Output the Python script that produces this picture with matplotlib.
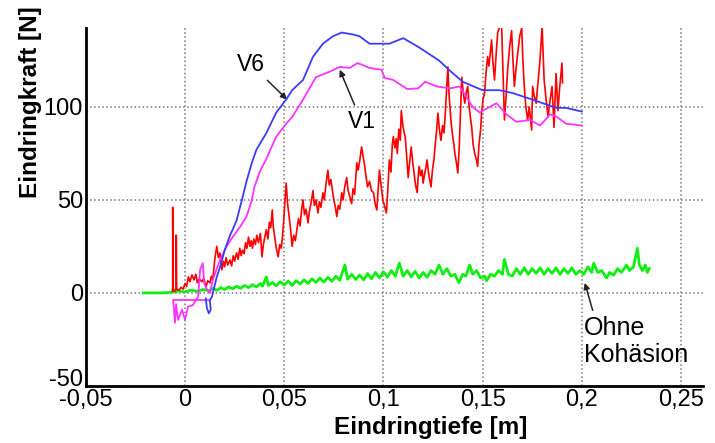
import matplotlib.pyplot as plt
from matplotlib.ticker import FixedLocator, FixedFormatter
from matplotlib.transforms import ScaledTranslation

plt.rcParams['font.family'] = ['Liberation Sans', 'DejaVu Sans']

# Eindringversuche: Eindringtiefe [m] gegen Eindringkraft [N]
v6_x = [0.0105, 0.011, 0.012, 0.013, 0.0125, 0.0136, 0.016, 0.018, 0.02, 0.0227,
        0.024, 0.026, 0.0277, 0.0287, 0.031, 0.0337, 0.036, 0.041, 0.046, 0.051,
        0.054, 0.0595, 0.0645, 0.0695, 0.0745, 0.079, 0.0846, 0.088, 0.093, 0.103,
        0.11, 0.118, 0.128, 0.133, 0.14, 0.15, 0.1585, 0.165, 0.175, 0.187, 0.192, 0.2]
v6_y = [-3, -8, -11, -9, -4, -2, 8.6, 15, 23, 31,
        34, 39, 46, 50, 60, 70, 77, 86, 97, 104,
        109, 114.5, 127, 134, 138, 140, 139, 138, 134, 134,
        137, 132, 125, 120, 113.5, 109, 109, 107.5, 104, 99.5, 99.5, 97.5]

v1_x = [0.0126, -0.006, -0.005, -0.0045, -0.0035, -0.0015, 0.0, 0.0015, 0.004, 0.0066,
        0.0076, 0.009, 0.0096, 0.011, 0.0126, 0.014, 0.0176, 0.021, 0.024, 0.0277,
        0.031, 0.0337, 0.035, 0.038, 0.041, 0.043, 0.046, 0.051, 0.054, 0.0595,
        0.066, 0.073, 0.078, 0.083, 0.087, 0.093, 0.099, 0.1007, 0.105, 0.112,
        0.1175, 0.121, 0.127, 0.1335, 0.1385, 0.145, 0.1485, 0.1535, 0.157, 0.162,
        0.167, 0.174, 0.179, 0.184, 0.187, 0.192, 0.2]
v1_y = [-3.8, -3.8, -16, -6, -14.5, -9, -14.5, -7.5, -6.5, -2,
        12.4, 16, 5.4, 2, 0, 7, 17.7, 25, 30, 35.5,
        41, 50, 57, 66, 72, 77, 84, 91, 94.6, 104,
        116, 119, 121.5, 121, 123.6, 121, 120, 115.6, 114.5, 109.6,
        110, 113.5, 111, 110, 111, 100, 97, 100, 102, 96,
        92, 93, 90, 96, 95, 91, 90]

rot_x = [-0.0062, -0.0062, -0.006, -0.005, -0.0045, -0.0044, -0.0042, -0.003, -0.002, -0.001,
         0.0, 0.0008, 0.0017, 0.0025, 0.0035, 0.0045, 0.0055, 0.0062, 0.0072, 0.0085,
         0.0095, 0.0105, 0.0115, 0.0126, 0.0133, 0.014, 0.015, 0.016, 0.0168, 0.0176,
         0.0186, 0.0193, 0.02, 0.0207, 0.0215, 0.0227, 0.0235, 0.0243, 0.025, 0.026,
         0.0268, 0.0276, 0.0283, 0.029, 0.0298, 0.0305, 0.0312, 0.032, 0.0327, 0.0334,
         0.034, 0.0347, 0.0355, 0.0362, 0.037, 0.038, 0.0388, 0.0395, 0.0402, 0.041,
         0.0418, 0.0425, 0.0432, 0.044, 0.0445, 0.0452, 0.046, 0.047, 0.0477, 0.0485,
         0.049, 0.0497, 0.0504, 0.051, 0.0517, 0.0525, 0.0533, 0.054, 0.0548, 0.0556,
         0.0564, 0.0572, 0.058, 0.0588, 0.0595, 0.0602, 0.061, 0.062, 0.0627, 0.0635,
         0.0645, 0.0652, 0.066, 0.067, 0.0677, 0.0685, 0.0695, 0.0702, 0.071, 0.072,
         0.0727, 0.0735, 0.0743, 0.075, 0.0758, 0.0765, 0.0772, 0.078, 0.079, 0.0797,
         0.0805, 0.0815, 0.0822, 0.083, 0.084, 0.0847, 0.0855, 0.0866, 0.0873, 0.0882,
         0.089, 0.0906, 0.0913, 0.092, 0.093, 0.094, 0.095, 0.0958, 0.0967, 0.0973,
         0.098, 0.0988, 0.0997, 0.1005, 0.1015, 0.1022, 0.103, 0.1038, 0.1045, 0.105,
         0.1058, 0.1065, 0.107, 0.1078, 0.1085, 0.109, 0.1098, 0.1105, 0.111, 0.1118,
         0.1125, 0.1132, 0.114, 0.1148, 0.1155, 0.1162, 0.117, 0.1175, 0.118, 0.1188,
         0.1195, 0.12, 0.1208, 0.1215, 0.122, 0.1228, 0.1235, 0.124, 0.1247, 0.1255,
         0.126, 0.1267, 0.1275, 0.1282, 0.129, 0.1298, 0.1305, 0.131, 0.1318, 0.1325,
         0.133, 0.134, 0.1347, 0.1355, 0.136, 0.1368, 0.1375, 0.1382, 0.1388, 0.1395,
         0.1402, 0.141, 0.1418, 0.1425, 0.1432, 0.1445, 0.1452, 0.146, 0.1468, 0.1475,
         0.1482, 0.149, 0.1495, 0.1502, 0.151, 0.1517, 0.1525, 0.1532, 0.1545, 0.1552,
         0.156, 0.1568, 0.1576, 0.1586, 0.1596, 0.1603, 0.161, 0.1618, 0.1626, 0.1636,
         0.1646, 0.1653, 0.166, 0.1668, 0.1677, 0.1687, 0.1697, 0.1703, 0.171, 0.1718,
         0.1727, 0.1735, 0.1747, 0.1752, 0.176, 0.177, 0.1778, 0.1788, 0.1795, 0.18,
         0.1805, 0.181, 0.182, 0.183, 0.1838, 0.185, 0.1855, 0.186, 0.1865, 0.187,
         0.1875, 0.188, 0.1888, 0.19, 0.1903]
rot_y = [0.7, 46, 2, 1, 1.5, 31, 2, 1.5, 3, 2,
         5, 3.5, 8.6, 6, 9.7, 7, 10, 5.4, 7.5, 6,
         8, 3.2, 6.5, 5.4, 9, 7, 18, 25, 19, 21.5,
         12.4, 17, 14, 19, 15, 17.7, 14.5, 20, 17, 21.5,
         18, 24, 20, 23, 21, 27, 24, 30, 25, 28,
         24, 29, 26, 31, 27, 32, 19.4, 26, 30, 34,
         29, 38, 35, 44.6, 35.5, 30, 24, 19.4, 26, 24,
         28.5, 38, 50, 59, 48, 41, 33, 25, 31, 28,
         34, 40, 36, 45, 50, 42, 45, 37.6, 44, 48,
         55, 47, 50, 43, 49, 46, 53.8, 50, 58, 66,
         58, 61, 55, 50, 46, 41, 47, 45, 53.8, 50,
         57, 62, 55, 52, 48, 56, 53, 70, 66, 72,
         78.5, 68, 62, 57, 60, 55, 54, 48, 44.6, 55,
         66, 58, 50, 47, 43, 55, 71.5, 65, 80, 84,
         78, 83, 75, 88, 82, 98, 90, 86, 84, 72,
         62, 70, 78.5, 70, 64, 58, 54, 62, 68, 63,
         66, 59, 64, 68, 71.5, 64, 60, 57, 66, 72,
         78.5, 86, 96.7, 88, 82, 90, 86, 93, 108, 121.5,
         108, 93, 86, 80, 75, 70, 64.5, 78, 95, 116,
         108, 102, 108, 111, 100, 89, 80, 75, 72, 68,
         80, 88, 96.7, 104, 107.5, 118, 127, 122, 136, 124,
         114.5, 128, 140, 143, 143, 118, 93, 105, 120, 132,
         141, 125, 111, 120, 129, 138, 142.5, 125, 111, 100,
         93, 100, 87.6, 111, 106, 102, 112, 123.6, 135, 143,
         128, 114.5, 104, 94.6, 102, 111, 100, 89, 104, 118,
         108, 98, 110, 123.6, 113]

ohne_x = [-0.021, -0.012, -0.008, -0.0065, -0.006, -0.0055, -0.003, 0.0, 0.003, 0.006,
          0.009, 0.012, 0.014, 0.016, 0.018, 0.02, 0.022, 0.024, 0.026, 0.028,
          0.03, 0.032, 0.034, 0.036, 0.038, 0.039, 0.041, 0.042, 0.044, 0.046,
          0.048, 0.05, 0.052, 0.054, 0.056, 0.058, 0.06, 0.062, 0.064, 0.066,
          0.068, 0.07, 0.072, 0.074, 0.076, 0.078, 0.0806, 0.082, 0.084, 0.086,
          0.088, 0.09, 0.092, 0.094, 0.096, 0.098, 0.1, 0.102, 0.104, 0.106,
          0.108, 0.11, 0.112, 0.114, 0.116, 0.118, 0.12, 0.122, 0.124, 0.126,
          0.128, 0.13, 0.132, 0.134, 0.136, 0.138, 0.14, 0.1415, 0.1435, 0.145,
          0.147, 0.149, 0.151, 0.152, 0.154, 0.156, 0.158, 0.16, 0.161, 0.163,
          0.165, 0.167, 0.169, 0.171, 0.173, 0.175, 0.177, 0.179, 0.181, 0.183,
          0.185, 0.187, 0.189, 0.191, 0.193, 0.195, 0.197, 0.199, 0.201, 0.203,
          0.205, 0.206, 0.208, 0.21, 0.2125, 0.214, 0.216, 0.218, 0.22, 0.2225,
          0.224, 0.226, 0.227, 0.228, 0.229, 0.2305, 0.232, 0.233, 0.234]
ohne_y = [0, 0, 0.2, 0.5, 2, 0.5, 1, 0.5, 1.5, 0.8,
          1.8, 1.2, 2.4, 1.4, 2.8, 1.8, 3.2, 2.2, 3.6, 2.4,
          4, 2.8, 4.4, 3.2, 5, 3.6, 8.6, 4, 5.6, 3.8,
          6, 4.2, 6.4, 4, 6.6, 4.8, 7, 5, 7.6, 5.6,
          8, 5.8, 8.4, 6.2, 9, 6.8, 15, 7.4, 10, 7.2,
          9.6, 7, 10.4, 7.6, 11, 8, 11.4, 8.4, 12, 9,
          16, 9, 12, 8.6, 11.6, 8, 11, 8.4, 12, 10,
          15, 10, 13, 9, 10, 5.5, 10, 9, 15, 10,
          12, 8, 9, 6.5, 10, 9, 12, 10, 18, 10,
          9, 13, 10, 13.5, 10, 13, 10.5, 13.5, 10, 13,
          10.5, 13.5, 10, 13, 10.5, 13.5, 10, 12, 10, 14,
          11, 16, 11, 12, 8, 11, 9.5, 13, 11, 15,
          12, 14, 19, 24, 15, 12, 15, 11, 13]

x_ticks = [-0.05, 0, 0.05, 0.1, 0.15, 0.2, 0.25]
x_labels = ['-0,05', '0', '0,05', '0,1', '0,15', '0,2', '0,25']
y_ticks = [-50, 0, 50, 100]
y_labels = ['-50', '0', '50', '100']

fig = plt.figure(figsize=(7.15, 4.43), dpi=100)
ax = fig.add_axes([0.120, 0.129, 0.863, 0.808])

ax.plot(ohne_x, ohne_y, color='#11ee11', lw=2.0, zorder=2)
ax.plot(rot_x, rot_y, color='#ff0000', lw=1.2, zorder=3)
ax.plot(v1_x, v1_y, color='#ff33ff', lw=1.3, zorder=4)
ax.plot(v6_x, v6_y, color='#3b3bff', lw=1.3, zorder=5)

ax.set_xlim(-0.05, 0.261)
ax.set_ylim(-50, 142.5)
ax.xaxis.set_major_locator(FixedLocator(x_ticks))
ax.xaxis.set_major_formatter(FixedFormatter(x_labels))
ax.yaxis.set_major_locator(FixedLocator(y_ticks))
ax.yaxis.set_major_formatter(FixedFormatter(y_labels))
ax.tick_params(length=0, labelsize=17, pad=2)
ax.grid(True, linestyle=':', color='#777777', lw=1.1)

for side in ['top', 'right']:
    ax.spines[side].set_visible(False)
for side in ['left', 'bottom']:
    ax.spines[side].set_linewidth(2)
    ax.spines[side].set_color('black')

# "-50" sitzt etwas hoeher, damit es nicht in "-0,05" laeuft
fig.canvas.draw()
lbl = ax.yaxis.get_major_ticks()[0].label1
lbl.set_transform(lbl.get_transform() + ScaledTranslation(0, 6 / 72, fig.dpi_scale_trans))

arrow = dict(arrowstyle='-|>', color='#222222', lw=1.1, mutation_scale=9, shrinkA=2, shrinkB=0)
ax.annotate('V6', xy=(0.0514, 104), xytext=(0.0332, 123), fontsize=16.5,
            ha='center', va='center', arrowprops=arrow)
ax.annotate('V1', xy=(0.078, 120), xytext=(0.089, 92), fontsize=16.5,
            ha='center', va='center', arrowprops=arrow)
ax.annotate('Ohne\nKohäsion', xy=(0.2015, 5.4), xytext=(0.201, -26), fontsize=18,
            ha='left', va='center', linespacing=1.15,
            arrowprops=dict(arrow, relpos=(0.1, 1.0)))

fig.text(0.603, 0.034, 'Eindringtiefe [m]', fontsize=17.5, fontweight='bold',
         ha='center', va='center')
fig.text(0.042, 0.77, 'Eindringkraft [N]', fontsize=17.5, fontweight='bold',
         ha='center', va='center', rotation=90)

fig.savefig('out.png', dpi=100)
